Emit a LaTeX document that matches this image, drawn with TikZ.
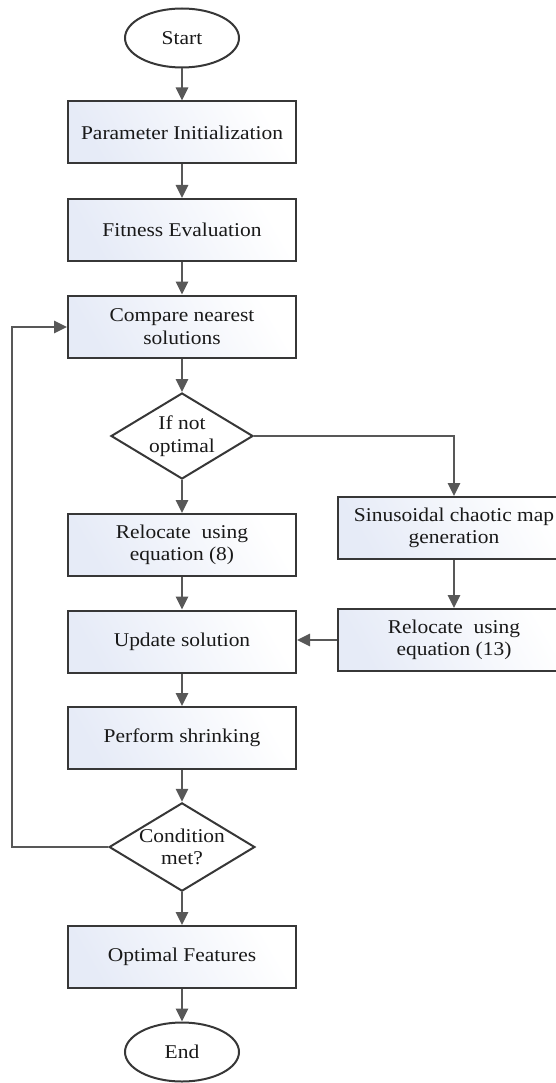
\documentclass[tikz,border=0pt]{standalone}
\usepackage{fontspec}
\setmainfont[FakeStretch=1.1]{Liberation Serif}
\usetikzlibrary{shapes.geometric,arrows.meta}

\definecolor{boxfill}{RGB}{230,235,247}
\definecolor{edgecol}{RGB}{55,55,55}
\definecolor{linkcol}{RGB}{88,88,88}
\definecolor{txtcol}{RGB}{25,25,25}

\begin{document}
\begin{tikzpicture}[x=1pt,y=-1pt,
  every node/.style={font=\fontsize{19.5}{22.5}\selectfont, text=txtcol, align=center, inner sep=0pt},
  procbox/.style={rectangle, draw=edgecol, line width=2pt,
    minimum width=228pt, minimum height=62pt,
    left color=boxfill, right color=white, shading angle=120},
  termnode/.style={ellipse, draw=edgecol, line width=2pt, fill=white,
    minimum width=114pt, minimum height=59pt},
  decision/.style={diamond, draw=edgecol, line width=2pt, fill=white,
    minimum width=142pt, minimum height=86pt, aspect=1.65},
  link/.style={draw=linkcol, line width=2.6pt,
    -{Triangle[length=13pt,width=12pt]}}
]
\useasboundingbox (0,0) rectangle (556,1083);

% main column
\node[termnode] (start) at (182,38) {Start};
\node[procbox] (param) at (182,132.5) {Parameter Initialization};
\node[procbox] (fit) at (182,230) {Fitness Evaluation};
\node[procbox] (comp) at (182,326.5) {Compare nearest\\solutions};
\node[decision] (ifnot) at (182,436) {If not\\optimal};
\node[procbox] (reloc8) at (182,545) {Relocate~ using\\equation (8)};
\node[procbox] (update) at (182,641.5) {Update solution};
\node[procbox] (shrink) at (182,738) {Perform shrinking};
\node[decision] (cond) at (182,847) {Condition\\met?};
\node[procbox] (opt) at (182,957) {Optimal Features};
\node[termnode] (end) at (182,1052) {End};

% side branch
\node[procbox, minimum width=232pt] (sinus) at (454,528) {Sinusoidal chaotic map\\generation};
\node[procbox, minimum width=232pt] (reloc13) at (454,640) {Relocate~ using\\equation (13)};

\coordinate (loopbot) at (12,847);
\coordinate (looptop) at (12,327);
\coordinate (branch) at (454,436);

% connectors
\draw[link] (start) -- (param);
\draw[link] (param) -- (fit);
\draw[link] (fit) -- (comp);
\draw[link] (comp) -- (ifnot);
\draw[link] (ifnot) -- (reloc8);
\draw[link] (reloc8) -- (update);
\draw[link] (update) -- (shrink);
\draw[link] (shrink) -- (cond);
\draw[link] (cond) -- (opt);
\draw[link] (opt) -- (end);
\draw[link] (ifnot.east) -- (branch) -- (sinus.north);
\draw[link] (sinus) -- (reloc13);
\draw[link] (reloc13.west) -- (update.east |- reloc13.west);
\draw[link] (cond.west) -- (loopbot) -- (looptop) -- (comp.west |- looptop);
\end{tikzpicture}
\end{document}
